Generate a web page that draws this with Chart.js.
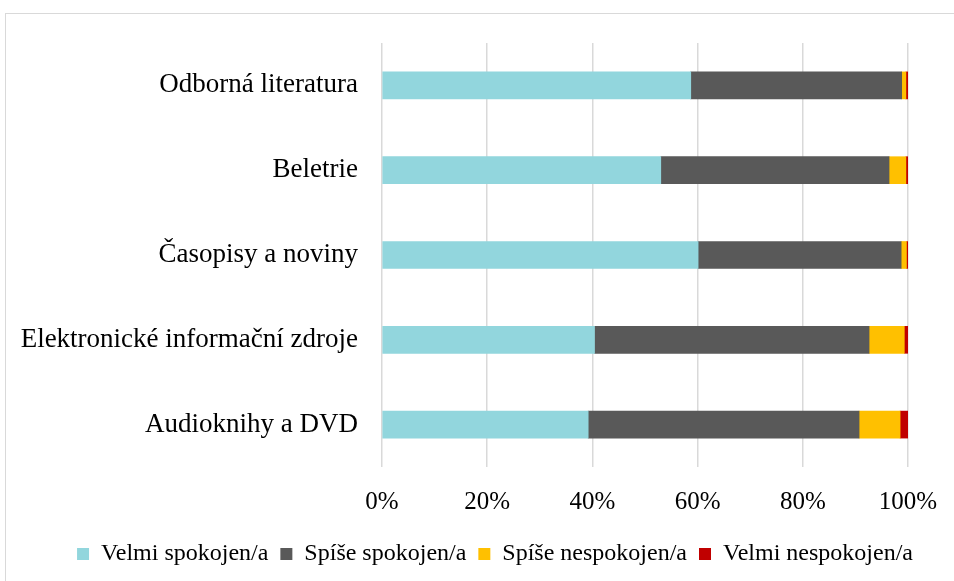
<!DOCTYPE html>
<html><head><meta charset="utf-8">
<script src="https://cdn.jsdelivr.net/npm/chart.js@4/dist/chart.umd.min.js"></script>
<style>
html,body{margin:0;padding:0;background:#fff;}
#wrap{position:relative;width:954px;height:581px;overflow:hidden;}
#frame{position:absolute;left:5px;top:13px;width:1000px;height:700px;border-left:1px solid #d9d9d9;border-top:1px solid #d9d9d9;}
canvas{position:absolute;left:0;top:0;}
</style></head>
<body><div id="wrap"><div id="frame"></div><canvas id="c" width="954" height="581"></canvas></div>
<script>
const categories = ["Odborná literatura","Beletrie","Časopisy a noviny","Elektronické informační zdroje","Audioknihy a DVD"];
const seriesNames = ["Velmi spokojen/a","Spíše spokojen/a","Spíše nespokojen/a","Velmi nespokojen/a"];
const velmiSpokojen = [58.7, 53.0, 60.1, 40.4, 39.2];
const spiseSpokojen = [40.1, 43.4, 38.6, 52.2, 51.5];
const spiseNespokojen = [0.8, 3.2, 1.0, 6.7, 7.8];
const velmiNespokojen = [0.4, 0.4, 0.3, 0.7, 1.5];
const xTicks = [0,20,40,60,80,100];
const colors = ["#92D6DD","#595959","#FFC000","#C00000"];
const values = [velmiSpokojen, spiseSpokojen, spiseNespokojen, velmiNespokojen];

const serif = "'Liberation Serif','Times New Roman',serif";
Chart.defaults.font.family = serif;
Chart.defaults.color = "#000";

const legendShift = {
  id: 'legendShift',
  afterLayout(chart) {
    const lg = chart.legend;
    if (lg) { lg.left += 41; lg.right += 41; }
  }
};

new Chart(document.getElementById('c'), {
  type: 'bar',
  data: {
    labels: categories,
    datasets: seriesNames.map((n,i)=>({label:n,data:values[i],backgroundColor:colors[i],barThickness:27,borderWidth:0}))
  },
  options: {
    indexAxis: 'y',
    responsive: false,
    animation: false,
    layout: {padding: {top: 43, right: 46, bottom: 5, left: 0}},
    plugins: {
      legend: {position:'bottom', labels:{boxWidth:12, boxHeight:12, padding:12, font:{family:serif, size:24}, color:'#000'}},
      tooltip: {enabled:false}
    },
    scales: {
      x: {
        stacked: true, min: 0, max: 100,
        afterBuildTicks: s => { s.ticks = xTicks.map(v=>({value:v})); },
        ticks: {callback: v => v + '%', font:{family:serif, size:25}, padding: 20, color:'#000'},
        grid: {color:'#d9d9d9', lineWidth:1.5, drawTicks:false},
        border: {display:false},
        afterFit: s => { s.height = 63; s.paddingLeft = 0; s.paddingRight = 0; }
      },
      y: {
        stacked: true,
        ticks: {font:{family:serif, size:27}, padding: 24, color:'#000'},
        grid: {display:false, drawTicks:false},
        border: {display:false},
        afterFit: s => { s.width = 382; }
      }
    }
  },
  plugins: [legendShift]
});
</script></body></html>
